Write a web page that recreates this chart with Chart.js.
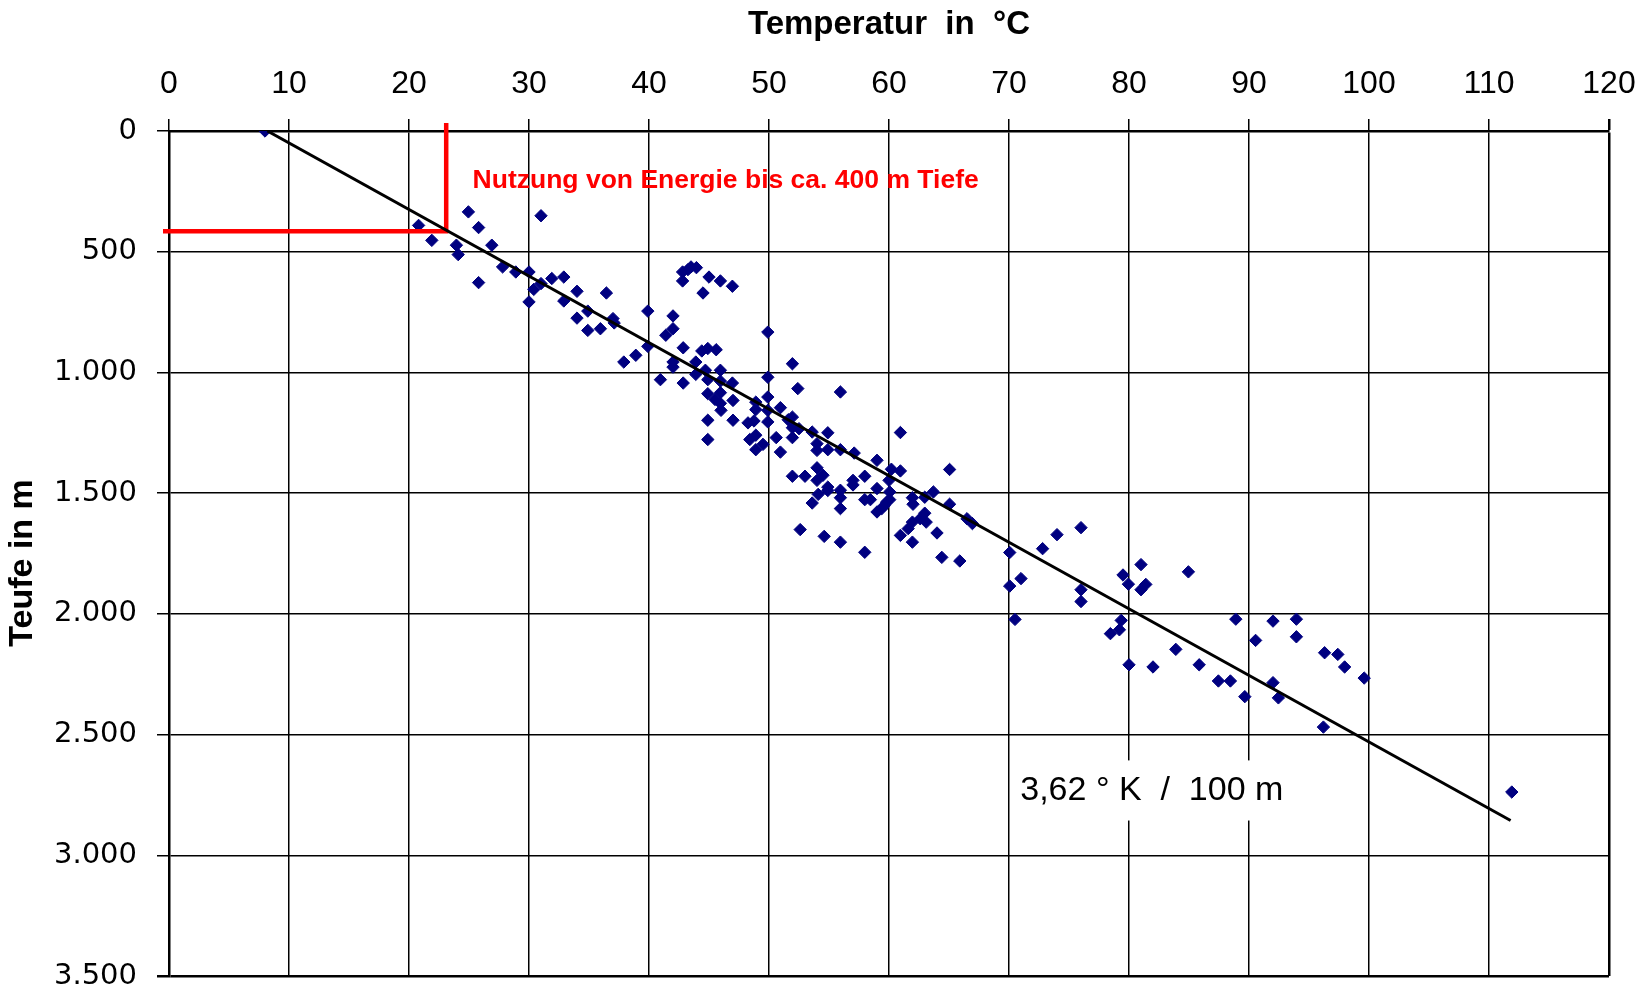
<!DOCTYPE html>
<html lang="de">
<head>
<meta charset="utf-8">
<title>Temperatur und Teufe</title>
<script src="https://cdn.jsdelivr.net/npm/chart.js@4.4.1/dist/chart.umd.min.js"></script>
<style>
    body { margin: 0; background: #fff; }
    canvas { display: block; }
</style>
</head>
<body>
<canvas id="graficoTeufe" width="1643" height="995"></canvas>
<script>
// Messpunkte: Temperatur in °C und Teufe in m
const temperaturen = [
    8, 20.8, 21.9, 24.95, 25.8, 23.95, 24.1, 26.9, 25.8, 31.0,
    27.8, 28.9, 30.0, 30.0, 30.4, 31.0, 31.9, 32.9, 34.0, 32.9,
    36.45, 34.9, 34.0, 34.9, 35.95, 37.0, 37.1, 37.9, 38.9, 39.9, 39.9,
    42.8, 43.25, 43.5, 43.95, 42.8, 45.0, 45.95, 46.95, 44.5, 42.0,
    42.0, 41.4, 42.85, 44.4, 44.9, 45.6, 40.95, 42.85, 42.0, 42.0,
    43.9, 43.9, 44.7, 44.9, 45.95, 45.95, 46.95, 44.9, 49.9,
    45.5, 45.95, 45.95, 46.0, 47.0, 44.9, 44.9, 47.0, 48.9, 48.9,
    49.9, 49.9, 49.9, 48.25, 48.75, 50.95, 49.9, 51.95, 52.4, 55.95,
    51.95, 51.6, 51.95, 52.5, 51.95, 50.6, 48.4, 48.9, 49.5, 48.9,
    50.95, 53.6, 54.9, 54.0, 54.0, 54.9, 55.95, 57.1, 59.0, 60.95,
    60.2, 60.95, 60.0, 65.05, 51.95, 53.0, 54.0, 54.5, 54.0, 54.9,
    54.9, 55.95, 57.0, 57.0, 57.98, 59.0, 60.06, 54.1, 53.6, 55.95,
    55.95, 57.98, 58.45, 60.06, 59.0, 59.4, 59.6, 59.8, 61.95, 62.0,
    62.98, 63.7, 65.05, 62.98, 63.1, 62.6, 61.95, 61.6, 60.95, 61.95,
    64.0, 66.5, 66.95, 64.4, 65.9, 52.6, 54.6, 55.95, 57.98,
    70.06, 71.0, 70.06, 70.5, 72.8, 74.0, 76.0, 76.0, 76.0, 79.5,
    79.95, 81.0, 81.0, 81.4, 84.95, 79.35, 79.2, 78.45, 80.0, 82.0,
    83.9, 85.85, 87.45, 88.45, 89.65, 88.9, 90.55, 92.0, 92.0, 92.45,
    93.95, 93.95, 96.3, 97.4, 97.97, 99.6, 96.2, 111.9
]
const teufen = [
    0, 391, 453, 335, 400, 473, 512, 473, 628, 351,
    563, 584, 584, 708, 656, 632, 611, 605, 664, 704,
    671, 746, 775, 826, 819, 777, 795, 957, 929, 892, 746,
    584, 574, 563, 566, 621, 605, 621, 643, 671, 766,
    819, 846, 898, 911, 901, 906, 1030, 1044, 957, 978,
    957, 1008, 991, 1030, 991, 1036, 1044, 1088, 833,
    1112, 1084, 1128, 1157, 1116, 1198, 1278, 1198, 1123, 1154,
    1102, 1157, 1205, 1209, 1201, 1146, 1020, 964, 1067, 1081,
    1185, 1196, 1229, 1233, 1270, 1270, 1278, 1260, 1298, 1320,
    1330, 1247, 1250, 1295, 1323, 1320, 1320, 1334, 1364, 1249,
    1401, 1408, 1447, 1402, 1430, 1430, 1395, 1426, 1447, 1475,
    1489, 1488, 1447, 1466, 1430, 1481, 1495, 1505, 1541, 1519,
    1564, 1527, 1527, 1527, 1578, 1564, 1552, 1537, 1519, 1546,
    1517, 1495, 1546, 1583, 1620, 1606, 1620, 1647, 1675, 1703,
    1665, 1606, 1626, 1766, 1781, 1651, 1679, 1703, 1745,
    1746, 1854, 1885, 2023, 1730, 1672, 1643, 1900, 1949, 1839,
    1877, 1796, 1900, 1878, 1826, 2027, 2066, 2082, 2211, 2220,
    2147, 2211, 2278, 2278, 2343, 2022, 2110, 2030, 2285, 2348,
    2022, 2095, 2161, 2168, 2220, 2266, 2469, 2738
]

// Ausgleichsgerade (3,62 K / 100 m)
const geradeT = [8.2, 111.8]
const geradeD = [0, 2856]

// rote Markierung: Nutzung bis ca. 400 m
const markeT = [-0.5, 23.1, 23.1]
const markeD = [415, 415, -33]

const yTickWerte = [0, 500, 1000, 1500, 2000, 2500, 3000, 3500]
const yTickLabels = ['0', '500', '1.000', '1.500', '2.000', '2.500', '3.000', '3.500']

const textoNutzung = 'Nutzung von Energie bis ca. 400 m Tiefe'
const textoGradient = '3,62 ° K  /  100 m'

// Lage der Texte in Datenkoordinaten
const posNutzung = { t: 25.3, d: 205 }
const posGradient = { t: 81.9, d: 2731 }
const kastenGradient = { t1: 70.5, t2: 93.4, d1: 2607, d2: 2856 }

const schrift = "'Liberation Sans', Arial, sans-serif"

function paare(xs, ys) {
    let lista = []
    for (let i = 0; i < xs.length; i++) {
        lista.push({ x: xs[i], y: ys[i] })
    }
    return lista
}

const anotacoes = {
    id: 'anotacoes',
    beforeDatasetsDraw(chart) {
        const ctx = chart.ctx
        const sx = chart.scales.x
        const sy = chart.scales.y
        const x1 = sx.getPixelForValue(kastenGradient.t1)
        const x2 = sx.getPixelForValue(kastenGradient.t2)
        const y1 = sy.getPixelForValue(kastenGradient.d1)
        const y2 = sy.getPixelForValue(kastenGradient.d2)
        ctx.save()
        ctx.fillStyle = '#fff'
        ctx.fillRect(x1, y1, x2 - x1, y2 - y1)
        ctx.restore()
    },
    afterDatasetsDraw(chart) {
        const ctx = chart.ctx
        const sx = chart.scales.x
        const sy = chart.scales.y
        ctx.save()
        ctx.textBaseline = 'middle'

        ctx.fillStyle = '#ff0000'
        ctx.textAlign = 'left'
        ctx.font = 'bold 26.5px ' + schrift
        ctx.fillText(textoNutzung, sx.getPixelForValue(posNutzung.t), sy.getPixelForValue(posNutzung.d))

        ctx.fillStyle = '#000'
        ctx.textAlign = 'center'
        ctx.font = '34px ' + schrift
        ctx.fillText(textoGradient, sx.getPixelForValue(posGradient.t), sy.getPixelForValue(posGradient.d))
        ctx.restore()
    }
}

// Achsen ohne Zusatzrand fuer ueberstehende Beschriftungen
function randWeg(scale) {
    scale.paddingLeft = 0
    scale.paddingRight = 0
    scale.paddingTop = 0
    scale.paddingBottom = 0
}

function desenharGrafico() {
    const grafico = document.getElementById('graficoTeufe')

    new Chart(grafico, {
        type: 'scatter',
        data: {
            datasets: [
                {
                    data: paare(temperaturen, teufen),
                    pointStyle: 'rectRot',
                    pointRadius: 6.2,
                    backgroundColor: '#000080',
                    borderColor: '#000080',
                    borderWidth: 1,
                    order: 3
                },
                {
                    data: paare(markeT, markeD),
                    showLine: true,
                    borderColor: '#ff0000',
                    borderWidth: 4.5,
                    pointRadius: 0,
                    clip: false,
                    order: 2
                },
                {
                    data: paare(geradeT, geradeD),
                    showLine: true,
                    borderColor: '#000',
                    borderWidth: 3,
                    pointRadius: 0,
                    order: 1
                }
            ]
        },
        options: {
            responsive: false,
            animation: false,
            devicePixelRatio: 1,
            layout: {
                padding: { right: 34, bottom: 19 }
            },
            plugins: {
                legend: { display: false },
                tooltip: { enabled: false }
            },
            scales: {
                x: {
                    type: 'linear',
                    position: 'top',
                    min: 0,
                    max: 120,
                    ticks: {
                        stepSize: 10,
                        padding: 16,
                        color: '#000',
                        font: { family: schrift, size: 32 }
                    },
                    grid: {
                        color: '#000',
                        lineWidth: function (c) { return c.tick && c.tick.value == 120 ? 2.5 : 1.5 },
                        tickLength: 12
                    },
                    border: { color: '#000', width: 2.5 },
                    title: {
                        display: true,
                        text: 'Temperatur  in  °C',
                        color: '#000',
                        font: { family: schrift, size: 33, weight: 'bold' },
                        padding: { top: 5, bottom: 0 }
                    },
                    afterFit: function (scale) {
                        scale.height = 131
                        randWeg(scale)
                    }
                },
                y: {
                    type: 'linear',
                    reverse: true,
                    min: 0,
                    max: 3500,
                    ticks: {
                        stepSize: 500,
                        padding: 20,
                        color: '#000',
                        font: { family: "'DejaVu Sans', sans-serif", size: 29 },
                        callback: function (v) { return yTickLabels[yTickWerte.indexOf(v)] }
                    },
                    grid: {
                        color: '#000',
                        lineWidth: function (c) { return c.tick && c.tick.value == 3500 ? 2.5 : 1.5 },
                        tickLength: 12
                    },
                    border: { color: '#000', width: 2.5 },
                    title: {
                        display: true,
                        text: 'Teufe in m  ',
                        color: '#000',
                        font: { family: schrift, size: 34, weight: 'bold' },
                        padding: { top: 2, bottom: 0 }
                    },
                    afterFit: function (scale) {
                        scale.width = 169
                        randWeg(scale)
                    }
                }
            }
        },
        plugins: [anotacoes]
    })
}
desenharGrafico()
</script>
</body>
</html>
